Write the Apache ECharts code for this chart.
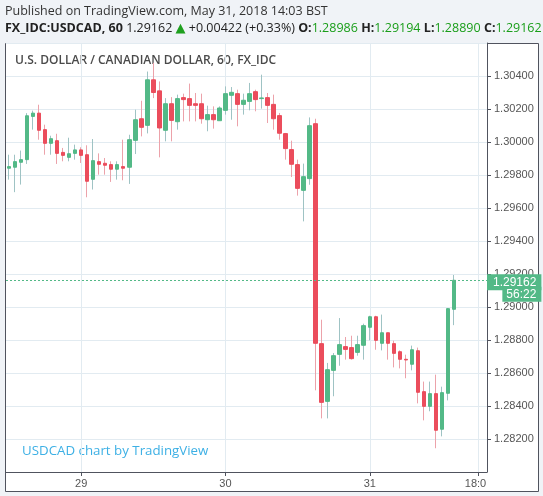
<!DOCTYPE html>
<html><head><meta charset="utf-8">
<script src="https://cdn.jsdelivr.net/npm/echarts@6/dist/echarts.min.js"></script>
<style>html,body{margin:0;padding:0;background:#f0f3f7}#c{width:543px;height:496px}</style>
</head><body><div id="c"></div>
<script>
// Hourly USDCAD candles, starting 2018-05-28 12:00
const openP = [1.29841,1.29847,1.29877,1.29893,1.30155,1.30175,1.30075,1.29992,1.30008,1.29937,
1.29907,1.29931,1.29952,1.29923,1.29774,1.29881,1.29871,1.29863,1.29835,1.29851,
1.29847,1.30010,1.30141,1.30101,1.30377,1.30310,1.30071,1.30232,1.30123,1.30269,
1.30263,1.30232,1.30232,1.30135,1.30166,1.30129,1.30192,1.30283,1.30293,1.30228,
1.30246,1.30305,1.30263,1.30269,1.30228,1.30160,1.30051,1.29954,1.29863,1.29707,
1.29778,1.30111,1.28778,1.28428,1.28616,1.28713,1.28760,1.28754,1.28725,1.28768,
1.28877,1.28941,1.28780,1.28844,1.28778,1.28729,1.28683,1.28653,1.28735,1.28487,
1.28398,1.28475,1.28259,1.28477,1.28986];
const closeP = [1.29851,1.29881,1.29893,1.30159,1.30175,1.30071,1.29992,1.30020,1.29931,1.29919,
1.29929,1.29952,1.29919,1.29762,1.29887,1.29865,1.29859,1.29835,1.29863,1.29841,
1.30014,1.30135,1.30089,1.30377,1.30300,1.30085,1.30232,1.30131,1.30263,1.30257,
1.30222,1.30222,1.30141,1.30166,1.30135,1.30206,1.30293,1.30301,1.30228,1.30253,
1.30293,1.30257,1.30267,1.30222,1.30141,1.30053,1.29960,1.29865,1.29719,1.29790,
1.30099,1.28780,1.28422,1.28620,1.28705,1.28772,1.28743,1.28687,1.28772,1.28887,
1.28941,1.28798,1.28844,1.28780,1.28719,1.28683,1.28679,1.28741,1.28483,1.28398,
1.28475,1.28253,1.28481,1.28990,1.29162];
const highP = [1.29923,1.29923,1.29948,1.30175,1.30190,1.30226,1.30105,1.30038,1.30050,1.29964,
1.30026,1.29984,1.29968,1.29980,1.30018,1.29931,1.29903,1.29883,1.29883,1.30014,
1.30044,1.30196,1.30250,1.30427,1.30480,1.30367,1.30266,1.30272,1.30287,1.30293,
1.30354,1.30297,1.30293,1.30220,1.30216,1.30216,1.30337,1.30333,1.30317,1.30293,
1.30358,1.30317,1.30408,1.30297,1.30287,1.30176,1.30055,1.30008,1.29893,1.29869,
1.30149,1.30141,1.28923,1.28661,1.28721,1.28933,1.28818,1.28826,1.28826,1.28899,
1.28947,1.28947,1.28954,1.28844,1.28796,1.28737,1.28711,1.28766,1.28754,1.28548,
1.28548,1.28590,1.28517,1.28994,1.29194];
const lowP = [1.29772,1.29696,1.29742,1.29867,1.30075,1.30014,1.29923,1.29923,1.29867,1.29883,
1.29883,1.29893,1.29873,1.29665,1.29712,1.29802,1.29802,1.29758,1.29772,1.29768,
1.29746,1.29927,1.30034,1.30052,1.30266,1.29907,1.30004,1.30004,1.30075,1.30125,
1.30125,1.30125,1.30111,1.30065,1.30081,1.30129,1.30166,1.30135,1.30095,1.30166,
1.30192,1.30186,1.30202,1.30115,1.30075,1.30014,1.29893,1.29788,1.29675,1.29519,
1.29741,1.28495,1.28325,1.28325,1.28459,1.28644,1.28681,1.28681,1.28705,1.28681,
1.28798,1.28741,1.28737,1.28681,1.28634,1.28628,1.28568,1.28616,1.28416,1.28313,
1.28368,1.28144,1.28216,1.28434,1.28890];
const xTickLabels = {12: '29', 36: '30', 60: '31', 78: '18:0'};
const lastPrice = 1.29162;
const countdown = '56:22';
const slotCount = 80;

const categories = [];
for (let i = 0; i < slotCount; i++) {
  const d = new Date(Date.UTC(2018, 4, 28, 12 + i));
  const p = n => String(n).padStart(2, '0');
  categories.push(p(d.getUTCMonth() + 1) + '-' + p(d.getUTCDate()) + ' ' + p(d.getUTCHours()) + ':00');
}
const wickData = openP.map((o, i) => [o, closeP[i], lowP[i], highP[i]]);
const bodyData = openP.map((o, i) => [o, closeP[i], Math.min(o, closeP[i]), Math.max(o, closeP[i])]);

const UP = '#53b987', DOWN = '#eb4d5c', UPW = '#9fc3c4', DOWNW = '#eca2aa';
const AX = '#50535e', GRID = '#e2ebf1';
const isTick = (i) => Object.prototype.hasOwnProperty.call(xTickLabels, i);

const chart = echarts.init(document.getElementById('c'), null, {renderer: 'canvas'});
chart.setOption({
  animation: false,
  backgroundColor: '#f0f3f7',
  grid: {left: 6, right: 56, top: 43, bottom: 24, containLabel: false},
  xAxis: {
    type: 'category', data: categories, boundaryGap: true,
    axisLine: {show: true, lineStyle: {color: AX}},
    axisTick: {show: true, alignWithLabel: true, interval: isTick, length: 4, lineStyle: {color: AX}},
    axisLabel: {interval: isTick, formatter: (v, i) => i === 78 ? '{s|' + xTickLabels[i] + '}' : xTickLabels[i],
      color: '#555', fontSize: 11, fontFamily: 'Arial', margin: 6,
      rich: {s: {padding: [0, 5, 0, 0], color: '#555', fontSize: 11, fontFamily: 'Arial'}}},
    splitLine: {show: true, alignWithLabel: true, interval: isTick, lineStyle: {color: GRID}}
  },
  yAxis: {
    type: 'value', position: 'right', min: 1.28, max: 1.306, interval: 0.002,
    axisLine: {show: true, lineStyle: {color: AX}},
    axisTick: {show: true, length: 4, lineStyle: {color: AX}},
    axisLabel: {formatter: v => v.toFixed(5), color: '#555', fontSize: 11, fontFamily: 'Arial', margin: 7,
      showMinLabel: false, showMaxLabel: false},
    splitLine: {show: true, lineStyle: {color: GRID}}
  },
  series: [
    {type: 'candlestick', data: wickData, barWidth: 1, z: 2, silent: true,
     itemStyle: {color: UPW, color0: DOWNW, borderColor: UPW, borderColor0: DOWNW, borderWidth: 1}},
    {type: 'candlestick', data: bodyData, barWidth: 4, z: 3, silent: true,
     itemStyle: {color: UP, color0: DOWN, borderColor: UP, borderColor0: DOWN, borderWidth: 1},
     markLine: {
       symbol: ['none', 'none'], silent: true, animation: false, precision: 5,
       lineStyle: {color: UP, type: [2, 2], width: 1},
       label: {position: 'end', distance: 0,
         formatter: () => '{g| }\n{a|' + lastPrice.toFixed(5) + '}\n{b|' + countdown + '}',
         rich: {
           g: {lineHeight: 16, fontSize: 11},
           a: {backgroundColor: UP, color: '#fff', fontSize: 12, fontFamily: 'Arial', lineHeight: 12, padding: [2, 5, 2, 6]},
           b: {backgroundColor: UP, color: '#fff', fontSize: 12, fontFamily: 'Arial', lineHeight: 12, padding: [2, 5, 1, 4], align: 'right'}
         }},
       data: [{yAxis: lastPrice}]
     }}
  ],
  graphic: [
    {type: 'rect', z: -10, silent: true, shape: {x: 5.5, y: 43.5, width: 533, height: 448},
     style: {fill: '#fff', stroke: AX, lineWidth: 1}},
    {type: 'text', x: 5, y: 11, silent: true,
     style: {text: 'Published on TradingView.com, May 31, 2018 14:03 BST', font: '12.5px "Open Sans"', fill: '#333', verticalAlign: 'middle'}},
    {type: 'text', x: 5, y: 28.5, silent: true,
     style: {text: '{b|FX_IDC:USDCAD, 60} {n|1.29162 }{t|▲}{n| +0.00422 (+0.33%) }{b|O:}{g|1.28986} {b|H:}{g|1.29194} {b|L:}{g|1.28890} {b|C:}{g|1.29162}',
       verticalAlign: 'middle',
       rich: {
         b: {font: 'bold 12.5px "Open Sans"', fill: '#222'},
         n: {font: '12.5px "Open Sans"', fill: '#222'},
         t: {font: '13px "DejaVu Sans"', fill: '#1fa01f'},
         g: {font: '12.5px "Open Sans"', fill: '#1a9e1a'}
       }}},
    {type: 'text', x: 15, y: 60.5, silent: true,
     style: {text: 'U.S. DOLLAR / CANADIAN DOLLAR, 60, FX_IDC', font: '600 12px "Open Sans"', fill: '#4a4a4a', verticalAlign: 'middle'}},
    {type: 'text', x: 22, y: 451, silent: true,
     style: {text: 'USDCAD chart by TradingView', font: '13.3px "Open Sans"', fill: '#3db0e5', verticalAlign: 'middle'}}
  ]
});
</script></body></html>
